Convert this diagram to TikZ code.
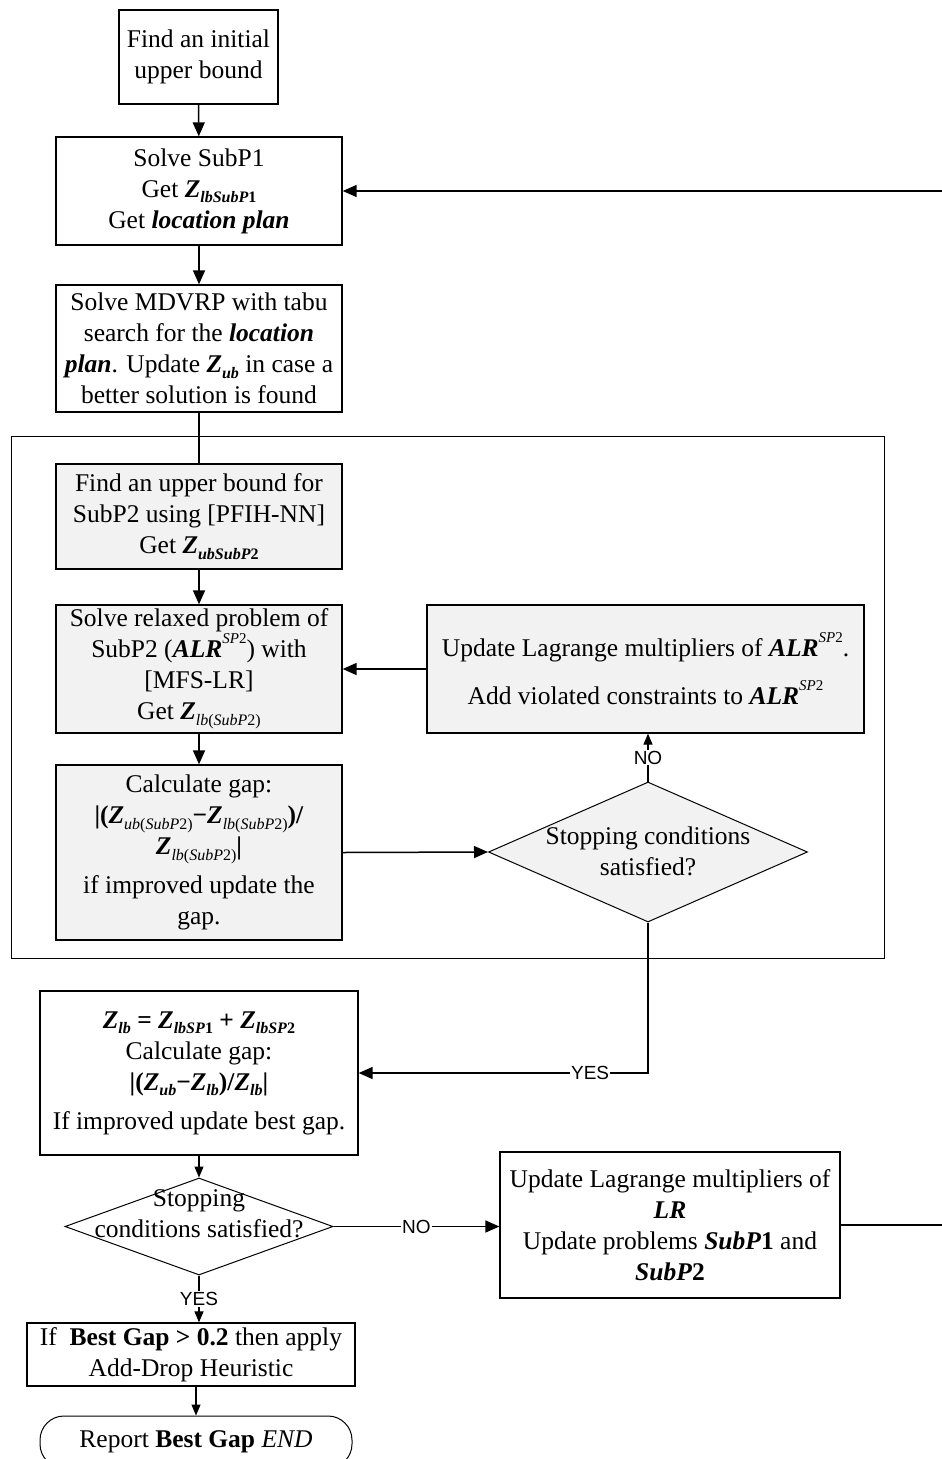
\documentclass[tikz,border=0pt]{standalone}
\usepackage{fontspec}
\setmainfont{Liberation Serif}
\newfontfamily\lblfont{Liberation Sans}
\usetikzlibrary{shapes.geometric,arrows.meta}

\definecolor{boxgray}{RGB}{242,242,242}

% text helpers
\newcommand\txtsz{\fontsize{25.5}{31}\selectfont}
\newcommand\bi[1]{\textbf{\textit{#1}}}
\newcommand\zz[1]{\bi{Z}\raisebox{-0.22em}{\fontsize{16}{16}\selectfont #1}}
\newcommand\sps[1]{\raisebox{0.55em}{\fontsize{15}{15}\selectfont #1}}
\newcommand\alrsp{\bi{ALR}\sps{\textit{SP}2}}

\begin{document}
\begin{tikzpicture}[x=1pt,y=-1pt,
  box/.style={draw, line width=1.3pt, align=center, inner sep=0pt, font=\txtsz},
  graybox/.style={box, fill=boxgray},
  dia/.style={draw, diamond, line width=1pt, inner sep=0pt},
  diatext/.style={align=center, inner sep=0pt, font=\txtsz},
  flow/.style={line width=1.5pt, -{Triangle[length=14pt,width=12pt]}},
  smallflow/.style={line width=1.2pt, -{Triangle[length=11pt,width=9pt]}},
  plain/.style={line width=1.5pt},
  tag/.style={font=\lblfont\fontsize{19}{19}\selectfont, fill=white, inner sep=1pt},
  term/.style={box, rounded corners=24pt, line width=1pt},
  group/.style={draw, line width=1pt}
]
\clip (0,0) rectangle (942,1459);

% main column
\node[box, minimum width=159pt, minimum height=94pt] (init) at (198.5,57)
  {Find an initial\\upper bound};
\node[box, minimum width=286pt, minimum height=108pt] (sub1) at (199,191)
  {Solve SubP1\\Get \zz{\bi{lbSubP}\textbf{1}}\\Get \bi{location plan}};
\node[box, minimum width=286pt, minimum height=127pt] (mdvrp) at (199,348.5)
  {Solve MDVRP with tabu\\search for the \bi{location}\\\bi{plan}. Update \zz{\bi{ub}} in case a\\better solution is found};

% SubP2 group
\draw[group] (11,436) rectangle (884,958);
\node[graybox, minimum width=286pt, minimum height=105pt] (ub2) at (199,516.5)
  {Find an upper bound for\\SubP2 using [PFIH-NN]\\Get \zz{\bi{ubSubP}\textbf{2}}};
\node[graybox, minimum width=286pt, minimum height=128pt] (relax) at (199,669)
  {Solve relaxed problem of\\SubP2 (\alrsp) with\\{}[MFS-LR]\\Get \zz{\textit{lb}(\textit{SubP}2)}};
\node[graybox, minimum width=286pt, minimum height=175pt] (gap) at (199,852.5)
  {Calculate gap:\\\textbf{|(}\zz{\textit{ub}(\textit{SubP}2)}\textbf{−}\zz{\textit{lb}(\textit{SubP}2)}\textbf{)/}\\
   \zz{\textit{lb}(\textit{SubP}2)}\textbf{|}\\[8pt]if improved update the\\gap.};
\node[graybox, minimum width=437pt, minimum height=128pt] (alr) at (645.5,669)
  {Update Lagrange multipliers of \alrsp.\\[17pt]Add violated constraints to \alrsp};
\node[dia, fill=boxgray, minimum width=319pt, minimum height=140pt] (stop1) at (648,852) {};
\node[diatext] (stop1t) at (648,851.5) {Stopping conditions\\satisfied?};

% lower part
\node[box, minimum width=318pt, minimum height=164pt] (lb) at (199,1073)
  {\zz{\bi{lb}} \textbf{=} \zz{\bi{lbSP}\textbf{1}} \textbf{+} \zz{\bi{lbSP}\textbf{2}}\\Calculate gap:\\
   \textbf{|(}\zz{\bi{ub}}\textbf{−}\zz{\bi{lb}}\textbf{)/}\zz{\bi{lb}}\textbf{|}\\[8pt]If improved update best gap.};
\node[dia, minimum width=268pt, minimum height=97pt] (stop2) at (199,1226.5) {};
\node[diatext] (stop2t) at (199,1214) {Stopping\\conditions satisfied?};
\node[box, minimum width=340pt, minimum height=146pt] (lr) at (670,1225)
  {Update Lagrange multipliers of\\\bi{LR}\\Update problems \bi{SubP}\textbf{1} and\\\bi{SubP}\textbf{2}};
\node[box, minimum width=328pt, minimum height=63pt] (heur) at (191,1354.5)
  {If \ \textbf{Best Gap > 0.2} then apply\\Add-Drop Heuristic};
\node[term, minimum width=312pt, minimum height=52pt] (fin) at (196,1442)
  {Report \textbf{Best Gap} \textit{END}};

% connectors
\draw[flow] (init) -- (sub1);
\draw[flow] (sub1) -- (mdvrp);
\draw[plain] (mdvrp) -- (ub2);
\draw[flow] (ub2) -- (relax);
\draw[flow] (relax) -- (gap);
\draw[flow] (alr) -- (relax);
\draw[flow] (gap.east) -- (stop1.west);
\draw[smallflow] (stop1.north) -- node[tag] (no1) {NO} (alr.south -| stop1.north);
\draw[flow] (stop1.south) |- node[tag, pos=0.6] (yes1) {YES} (lb.east);
\draw[smallflow] (lb.south) -- (stop2.north);
\draw[flow] (stop2.east) -- node[tag] (no2) {NO} (stop2.east -| lr.west);
\draw[smallflow] (stop2.south) -- node[tag] (yes2) {YES} (stop2.south |- heur.north);
\draw[smallflow] (heur.south -| fin.north) -- (fin.north);
\draw[flow] (lr.east) -- ++(130,0) |- (sub1.east);
\end{tikzpicture}
\end{document}
